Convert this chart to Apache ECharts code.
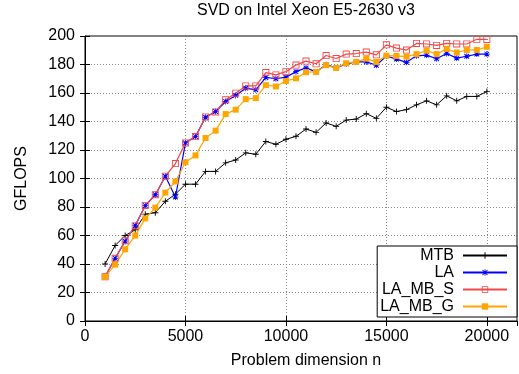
<!DOCTYPE html>
<html>
<head>
<meta charset="utf-8">
<script src="https://cdn.jsdelivr.net/npm/echarts@6/dist/echarts.min.js"></script>
<style>
  html, body { margin: 0; padding: 0; background: #fff; }
  #chart { width: 519px; height: 374px; }
</style>
</head>
<body>
<div id="chart"></div>
<script>
  // problem sizes n
  var sizes = [1000, 1500, 2000, 2500, 3000, 3500, 4000, 4500, 5000, 5500,
    6000, 6500, 7000, 7500, 8000, 8500, 9000, 9500, 10000, 10500,
    11000, 11500, 12000, 12500, 13000, 13500, 14000, 14500, 15000, 15500,
    16000, 16500, 17000, 17500, 18000, 18500, 19000, 19500, 20000];

  // GFLOPS per series
  var mtb = [40, 53, 60, 64, 75, 76, 84, 89, 96, 96,
    105, 105, 111, 113, 118, 117, 126, 124, 127.5, 129.6,
    134.7, 132.4, 139, 136.6, 141, 141.7, 145.5, 142.2, 150, 147,
    148.3, 151.7, 154.5, 151.7, 158, 154.5, 157.6, 157.6, 161];
  var la = [31, 44, 56, 67, 81, 88.6, 101.6, 87, 125, 129.4,
    143, 147, 154, 158.3, 163.4, 162.2, 170.9, 170, 171.1, 175,
    177.6, 174.8, 179.9, 177.6, 180.4, 181.8, 181.8, 179.5, 186, 183.8,
    181.5, 186.1, 186.6, 184, 187.7, 184.5, 185.8, 187.3, 187.3];
  var laMbS = [31, 44, 56.4, 66.7, 81.1, 88.6, 101.6, 110.5, 125, 129.4,
    143.2, 146.7, 155.2, 159.9, 165, 165, 174.3, 172.7, 175, 179.6,
    182.4, 180.5, 186.3, 184.2, 187.3, 187.7, 188.7, 186.8, 193.8, 191.5,
    190.1, 194.8, 194.4, 193.4, 194.8, 194.4, 194.4, 197.7, 197.6];
  var laMbG = [31, 39.6, 50.3, 59.9, 72, 79.6, 90.1, 97.9, 111.4, 116.2,
    128.4, 133.6, 145.2, 148.3, 155.7, 156.4, 165.5, 164.6, 168.4, 170.3,
    174.6, 174.8, 179.5, 177.6, 180.9, 181.8, 184.1, 181.8, 186.2, 186,
    185.5, 187.3, 189.8, 187.3, 191, 188.4, 190.2, 190.2, 192.4];

  var names = ['MTB', 'LA', 'LA_MB_S', 'LA_MB_G'];

  function pairs(vals) {
    return sizes.map(function (n, i) { return [n, vals[i]]; });
  }

  var font = 'Liberation Sans, Arial, sans-serif';
  var plusPath = 'path://M-0.6,-4H0.6V-0.6H4V0.6H0.6V4H-0.6V0.6H-4V-0.6H-0.6Z';
  var starPath = 'path://M-4,-3L-3,-4L4,3L3,4Z M3,-4L4,-3L-3,4L-4,3Z M-0.6,-4.5H0.6V4.5H-0.6Z M-4.5,-0.6H4.5V0.6H-4.5Z';
  var boxPath = 'path://M-4,-4H4V4H-4Z M-3,-3V3H3V-3Z';

  var myChart = echarts.init(document.getElementById('chart'));

  var gridLine = { show: true, lineStyle: { color: '#888', width: 1, type: [1, 2] } };

  var option = {
    animation: false,
    textStyle: { fontFamily: font },
    title: {
      text: 'SVD on Intel Xeon E5-2630 v3',
      left: 197,
      top: 3,
      padding: 0,
      textStyle: { fontFamily: font, fontSize: 16, fontWeight: 'normal', color: '#000' }
    },
    grid: {
      left: 85, right: 2, top: 36, bottom: 53,
      show: true, borderColor: '#000', borderWidth: 1
    },
    legend: {
      data: names,
      orient: 'vertical',
      align: 'right',
      right: 2,
      top: 246,
      itemWidth: 44,
      itemHeight: 8,
      itemGap: 0,
      padding: [1, 9, 2, 3],
      borderColor: '#000',
      borderWidth: 1,
      backgroundColor: '#fff',
      textStyle: { fontFamily: font, fontSize: 16, lineHeight: 17, color: '#000', padding: [0, 4, 0, 0] }
    },
    xAxis: [{
      type: 'value',
      min: 0, max: 21500, interval: 5000,
      name: 'Problem dimension n',
      nameLocation: 'middle',
      nameGap: 32,
      nameTextStyle: { fontFamily: font, fontSize: 16, color: '#000', padding: [0, 0, 0, 10] },
      axisLine: { show: true, lineStyle: { color: '#000' } },
      axisTick: { show: true, inside: true, length: 5, lineStyle: { color: '#000' } },
      axisLabel: {
        fontFamily: font, fontSize: 16, color: '#000', margin: 8,
        formatter: function (v) { return String(v); }
      },
      splitLine: gridLine
    }, {
      type: 'value',
      position: 'top',
      min: 0, max: 21500, interval: 5000,
      axisLine: { show: false },
      axisTick: { show: true, inside: true, length: 5, lineStyle: { color: '#000' } },
      axisLabel: { show: false },
      splitLine: { show: false }
    }],
    yAxis: [{
      type: 'value',
      min: 0, max: 200, interval: 20,
      name: 'GFLOPS',
      nameLocation: 'middle',
      nameGap: 55,
      nameTextStyle: { fontFamily: font, fontSize: 16, color: '#000' },
      axisLine: { show: true, lineStyle: { color: '#000' } },
      axisTick: { show: true, inside: true, length: 5, lineStyle: { color: '#000' } },
      axisLabel: { fontFamily: font, fontSize: 16, color: '#000', margin: 10 },
      splitLine: gridLine
    }, {
      type: 'value',
      position: 'right',
      min: 0, max: 200, interval: 20,
      axisLine: { show: false },
      axisTick: { show: true, inside: true, length: 5, lineStyle: { color: '#000' } },
      axisLabel: { show: false },
      splitLine: { show: false }
    }],
    series: [{
      name: 'MTB',
      type: 'line',
      data: pairs(mtb),
      color: '#000',
      symbol: plusPath,
      symbolSize: 6,
      lineStyle: { width: 1 }
    }, {
      name: 'LA',
      type: 'line',
      data: pairs(la),
      color: '#0000ff',
      symbol: starPath,
      symbolSize: 6,
      lineStyle: { width: 1.2 }
    }, {
      name: 'LA_MB_S',
      type: 'line',
      data: pairs(laMbS),
      color: '#f04848',
      symbol: boxPath,
      symbolSize: 7,
      lineStyle: { width: 1.2 }
    }, {
      name: 'LA_MB_G',
      type: 'line',
      data: pairs(laMbG),
      color: '#ffa500',
      symbol: 'rect',
      symbolSize: 6,
      lineStyle: { width: 1.2 }
    }]
  };

  myChart.setOption(option);
</script>
</body>
</html>
